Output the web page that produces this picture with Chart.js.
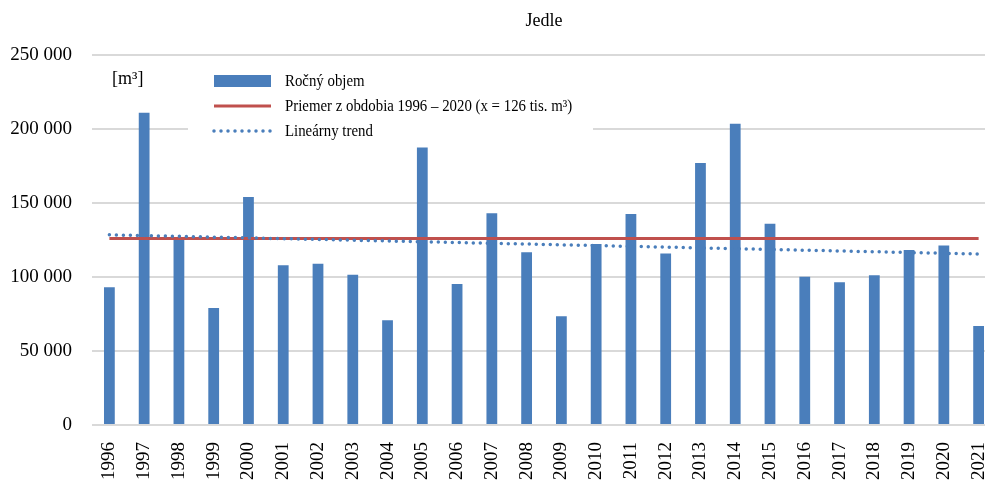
<!DOCTYPE html>
<html>
<head>
<meta charset="utf-8">
<script src="https://cdn.jsdelivr.net/npm/chart.js@4/dist/chart.umd.min.js"></script>
<style>
  html, body { margin: 0; padding: 0; background: #fff; overflow: hidden; }
  #wrap { width: 996px; height: 480px; }
</style>
</head>
<body>
<div id="wrap"><canvas id="chart"></canvas></div>
<script>
const years = ["1996", "1997", "1998", "1999", "2000", "2001", "2002", "2003", "2004",
  "2005", "2006", "2007", "2008", "2009", "2010", "2011", "2012", "2013", "2014",
  "2015", "2016", "2017", "2018", "2019", "2020", "2021"];
const annualVolume = [93000, 211000, 126000, 79000, 154000, 108000, 109000, 101500, 70700,
  187500, 95300, 143000, 116700, 73400, 122300, 142500, 115800, 177000, 203500,
  136000, 100200, 96400, 101100, 118200, 121200, 66900];
const meanValue = 126000;         // priemer 1996 - 2020
const trendStart = 128500;        // trend v roku 1996
const trendEnd = 115500;          // trend v roku 2021
const yTicks = [0, 50000, 100000, 150000, 200000, 250000];

const serif = "'Liberation Serif', 'Times New Roman', serif";
const blue = "#4a7ebb";
const red = "#c0504d";

function fmt(v) {
  return String(v).replace(/\B(?=(\d{3})+(?!\d))/g, " ");
}

// legend + unit label drawn by hand, legend box covers the grid lines
const legendBox = {
  id: "legendBox",
  beforeDatasetsDraw(chart) {
    const ctx = chart.ctx;
    const ds = chart.data.datasets;
    ctx.save();
    ctx.fillStyle = "#fff";
    ctx.fillRect(188, 62, 405, 80);

    ctx.fillStyle = "#000";
    ctx.font = "18px " + serif;
    ctx.textBaseline = "alphabetic";
    ctx.fillText("[m³]", 112, 84);

    const rowY = [81, 106, 131];
    ds.forEach((d, i) => {
      const y = rowY[i];
      if (d.type === "bar") {
        ctx.fillStyle = d.backgroundColor;
        ctx.fillRect(214, y - 6, 57, 12);
      } else {
        ctx.beginPath();
        ctx.strokeStyle = d.borderColor;
        ctx.lineWidth = d.borderWidth;
        ctx.lineCap = d.borderCapStyle || "butt";
        ctx.setLineDash(d.borderDash || []);
        ctx.moveTo(214, y);
        ctx.lineTo(271, y);
        ctx.stroke();
        ctx.setLineDash([]);
      }
      ctx.save();
      ctx.translate(285, y);
      ctx.scale(0.9, 1);
      ctx.fillStyle = "#000";
      ctx.font = "16.5px " + serif;
      ctx.textBaseline = "middle";
      ctx.fillText(d.label, 0, 1);
      ctx.restore();
    });
    ctx.restore();
  }
};

new Chart(document.getElementById("chart"), {
  type: "bar",
  data: {
    labels: years,
    datasets: [
      {
        type: "bar",
        label: "Ročný objem",
        data: annualVolume,
        backgroundColor: blue,
        barPercentage: 1,
        categoryPercentage: 0.31,
        order: 3
      },
      {
        type: "line",
        label: "Priemer z obdobia 1996 – 2020 (x = 126 tis. m³)",
        data: [{ x: years[0], y: meanValue }, { x: years[years.length - 1], y: meanValue }],
        borderColor: red,
        borderWidth: 3,
        pointRadius: 0,
        order: 2
      },
      {
        type: "line",
        label: "Lineárny trend",
        data: [{ x: years[0], y: trendStart }, { x: years[years.length - 1], y: trendEnd }],
        borderColor: blue,
        borderWidth: 3.5,
        borderDash: [0, 7],
        borderCapStyle: "round",
        pointRadius: 0,
        order: 1
      }
    ]
  },
  options: {
    responsive: true,
    maintainAspectRatio: false,
    animation: false,
    layout: { padding: 0 },
    plugins: {
      legend: { display: false },
      tooltip: { enabled: false },
      title: {
        display: true,
        text: "Jedle",
        fullSize: false,
        color: "#000",
        font: { family: serif, size: 18, weight: "normal" },
        padding: { top: 10, bottom: 23.4 }
      }
    },
    scales: {
      x: {
        grid: { display: false, drawTicks: false },
        border: { display: false },
        ticks: {
          autoSkip: false,
          minRotation: 90,
          maxRotation: 90,
          padding: 17,
          color: "#000",
          font: { family: serif, size: 19 }
        },
        afterFit(scale) {
          scale.paddingLeft = 0;
          scale.paddingRight = 0;
          scale.height = 55;
        }
      },
      y: {
        min: 0,
        max: 250000,
        grid: { color: "#d9d9d9", lineWidth: 2, drawTicks: false },
        border: { display: false },
        afterBuildTicks(scale) {
          scale.ticks = yTicks.map(v => ({ value: v }));
        },
        ticks: {
          padding: 20,
          color: "#000",
          font: { family: serif, size: 19 },
          callback: v => fmt(v)
        },
        afterFit(scale) {
          scale.width = 92;
        }
      }
    }
  },
  plugins: [legendBox]
});
</script>
</body>
</html>
